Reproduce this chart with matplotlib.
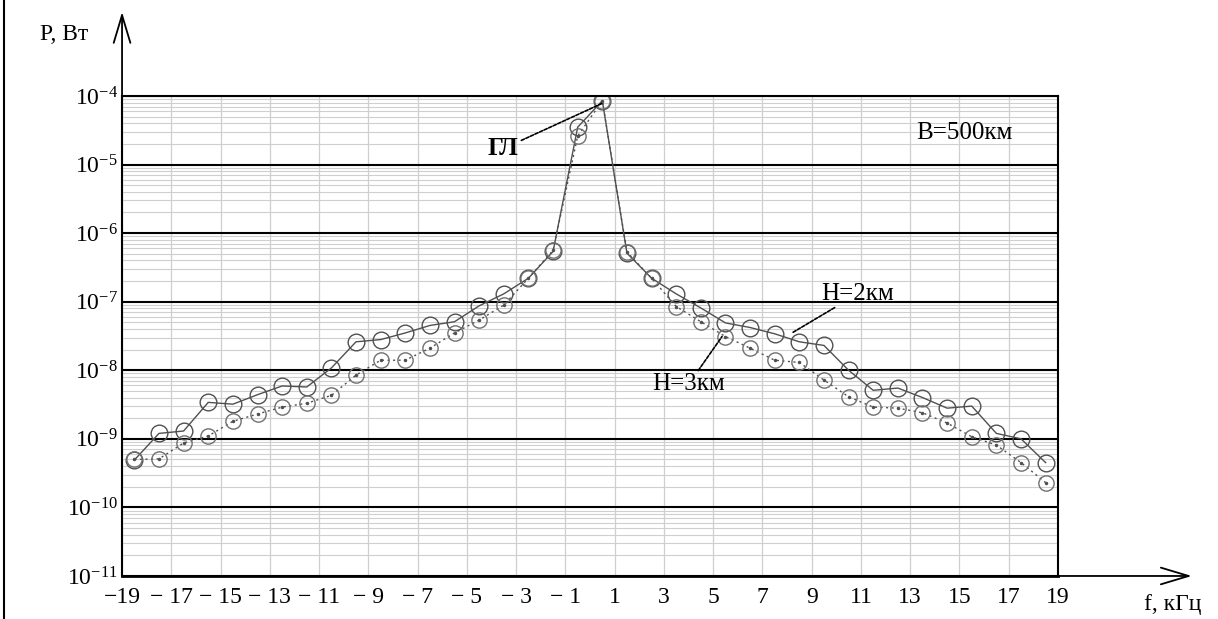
import numpy as np
import matplotlib.pyplot as plt
from matplotlib.lines import Line2D
from matplotlib.ticker import FixedLocator, LogLocator, NullFormatter, FuncFormatter

plt.rcParams['font.family'] = ['Liberation Serif', 'DejaVu Serif']
plt.rcParams['mathtext.default'] = 'regular'

# frequency offsets, kHz
f = np.arange(-18.5, 19.0, 1.0)

# received power, W
p_h2 = [4.9e-10, 1.2e-9, 1.3e-9, 3.4e-9, 3.2e-9, 4.4e-9, 5.9e-9, 5.7e-9,
        1.08e-8, 2.6e-8, 2.8e-8, 3.5e-8, 4.5e-8, 5.1e-8, 8.7e-8, 1.3e-7,
        2.2e-7, 5.4e-7, 3.5e-5,
        8.5e-5, 5.1e-7, 2.2e-7, 1.3e-7, 8.1e-8, 4.9e-8, 4.2e-8, 3.4e-8,
        2.6e-8, 2.3e-8, 1.0e-8, 5.1e-9, 5.5e-9, 4.0e-9, 2.8e-9, 3.0e-9,
        1.2e-9, 1.0e-9, 4.5e-10]
p_h3 = [5.0e-10, 5.1e-10, 8.7e-10, 1.1e-9, 1.8e-9, 2.3e-9, 2.9e-9, 3.3e-9,
        4.3e-9, 8.5e-9, 1.4e-8, 1.4e-8, 2.1e-8, 3.5e-8, 5.4e-8, 8.9e-8,
        2.2e-7, 5.6e-7, 2.6e-5,
        8.5e-5, 5.3e-7, 2.2e-7, 8.5e-8, 5.1e-8, 3.1e-8, 2.1e-8, 1.4e-8,
        1.3e-8, 7.2e-9, 4.1e-9, 2.9e-9, 2.8e-9, 2.4e-9, 1.7e-9, 1.07e-9,
        8.1e-10, 4.5e-10, 2.3e-10]

xticks = list(range(-19, 20, 2))
xlabels = [('\u2212' + ('' if t == -19 else ' ') + str(-t)) if t < 0 else str(t) for t in xticks]

fig = plt.figure(figsize=(12.18, 6.19), dpi=100)
ax = fig.add_axes([0.1002, 0.0695, 0.7684, 0.7755])

ax.set_yscale('log')
ax.set_xlim(-19, 19)
ax.set_ylim(1e-11, 1e-4)

ax.xaxis.set_major_locator(FixedLocator(xticks))
ax.set_xticklabels(xlabels)
ax.yaxis.set_major_locator(LogLocator(base=10, numticks=20))
ax.yaxis.set_minor_locator(LogLocator(base=10, subs=np.arange(2, 10), numticks=20))
ax.yaxis.set_minor_formatter(NullFormatter())
ax.yaxis.set_major_formatter(FuncFormatter(lambda v, pos: r'$10^{%d}$' % round(np.log10(v))))

ax.grid(which='minor', axis='y', color='#cfcfcf', lw=0.8)
ax.grid(which='major', axis='x', color='#cfcfcf', lw=0.9)
ax.grid(which='major', axis='y', color='black', lw=1.5)
ax.set_axisbelow(True)

ax.tick_params(which='both', length=0)
ax.tick_params(axis='x', labelsize=17, pad=8)
ax.tick_params(axis='y', labelsize=17, pad=3)
for side in ['top', 'right', 'left']:
    ax.spines[side].set_linewidth(1.5)
ax.spines['bottom'].set_linewidth(2)

line_col = '#505050'
ax.plot(f, p_h2, '-', color=line_col, lw=1, marker='o', ms=12,
        mfc='none', mec=line_col, mew=1)
ax.plot(f, p_h3, linestyle=(0, (1.5, 2.5)), color=line_col, lw=1, marker='o',
        ms=11, mfc='none', mec='#707070', mew=1)
ax.plot(f, p_h3, ls='none', marker='.', ms=3, color=line_col)

# axis arrows
arrow = dict(arrowstyle='->,head_length=1.0,head_width=0.3', mutation_scale=20,
             lw=1.3, color='black', shrinkA=0, shrinkB=0)
ax.annotate('', xy=(0, 1.175), xytext=(0, 1.0), xycoords='axes fraction',
            arrowprops=arrow, annotation_clip=False)
ax.annotate('', xy=(1.143, 0), xytext=(1.0, 0), xycoords='axes fraction',
            arrowprops=arrow, annotation_clip=False)

# labels on the curves
lead = dict(arrowstyle='-', lw=1.2, color='black', linestyle=(0, (2, 1)),
            shrinkA=0, shrinkB=0)
ax.annotate('ГЛ', xy=(0.53, 7.9e-5), xytext=(-2.9, 1.7e-5), fontsize=18,
            fontweight='bold', ha='right', va='center', arrowprops=lead)
ax.annotate('H=2км', xy=(8.2, 3.5e-8), xytext=(9.4, 9.0e-8), fontsize=18,
            ha='left', va='bottom', arrowprops=lead)
ax.annotate('H=3км', xy=(5.36, 3.1e-8), xytext=(4.0, 9.0e-9), fontsize=18,
            ha='center', va='top', arrowprops=lead)
ax.text(15.2, 2.9e-5, 'B=500км', fontsize=18, ha='center', va='center')

fig.text(0.0525, 0.9435, 'P, Вт', fontsize=17, ha='center', va='center')
fig.text(0.963, 0.024, 'f, кГц', fontsize=17, ha='center', va='center')

fig.add_artist(Line2D([0.0035, 0.0035], [0, 1], color='black', lw=1.5,
                      transform=fig.transFigure))

fig.savefig('out.png', dpi=100)
